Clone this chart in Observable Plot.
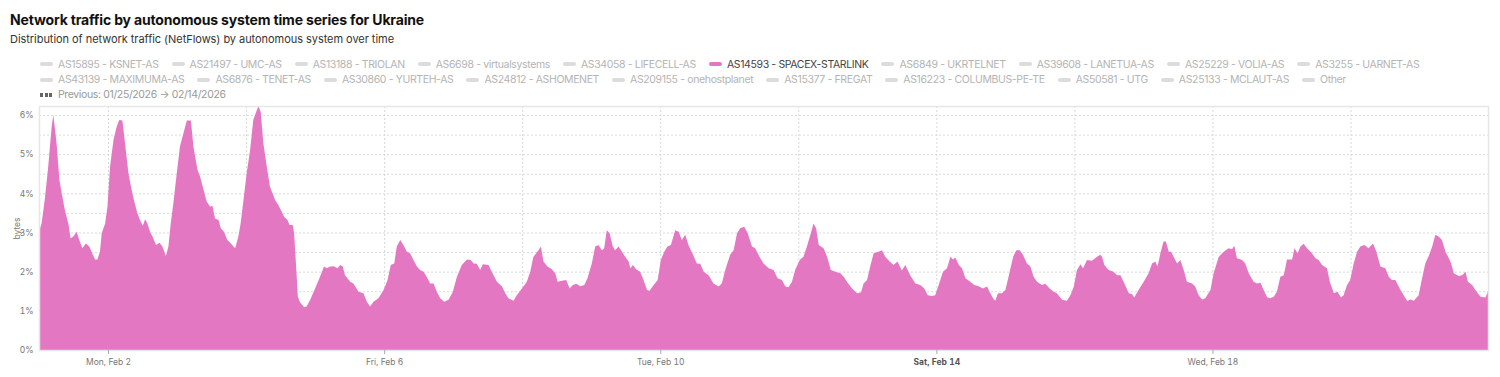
<!DOCTYPE html>
<html><head><meta charset="utf-8">
<script src="https://cdn.jsdelivr.net/npm/d3@7"></script>
<script src="https://cdn.jsdelivr.net/npm/@observablehq/plot@0.6"></script>
<style>
body{margin:0;background:#fff;font-family:Inter,"Noto Sans",sans-serif;}
#wrap{position:relative;width:1500px;height:377px;overflow:hidden}
#title{position:absolute;left:10px;top:11.4px;font-weight:700;font-size:14px;color:#111;white-space:nowrap}
#subtitle{position:absolute;left:10px;top:31.6px;font-size:11px;color:#333;white-space:nowrap}
.row{position:absolute;left:40px;display:flex;white-space:nowrap;font-size:10.5px;color:#b4b4b4}
.item{display:flex;align-items:center;margin-right:13px}
.item:last-child{margin-right:0}
.sw{width:13px;height:4px;border-radius:2px;background:#dcdcdc;margin-right:5px;flex:none}
.item.on{color:#444}
.item.on .sw{background:#e377c2}
.sw.dash{background:repeating-linear-gradient(90deg,#666 0 3px,transparent 3px 4.5px);border-radius:0}
#chart{position:absolute;left:0;top:100px}
</style></head>
<body><div id="wrap">
<div id="title"></div>
<div id="subtitle"></div>
<div class="row" id="row1" style="top:57.7px"></div>
<div class="row" id="row2" style="top:73px"></div>
<div class="row" id="row3" style="top:88px"></div>
<div id="chart"></div>
</div>
<script>
const titleText = "Network traffic by autonomous system time series for Ukraine";
const subtitleText = "Distribution of network traffic (NetFlows) by autonomous system over time";
const legendRow1 = ["AS15895 - KSNET-AS","AS21497 - UMC-AS","AS13188 - TRIOLAN","AS6698 - virtualsystems","AS34058 - LIFECELL-AS","AS14593 - SPACEX-STARLINK","AS6849 - UKRTELNET","AS39608 - LANETUA-AS","AS25229 - VOLIA-AS","AS3255 - UARNET-AS"];
const legendRow2 = ["AS43139 - MAXIMUMA-AS","AS6876 - TENET-AS","AS30860 - YURTEH-AS","AS24812 - ASHOMENET","AS209155 - onehostplanet","AS15377 - FREGAT","AS16223 - COLUMBUS-PE-TE","AS50581 - UTG","AS25133 - MCLAUT-AS","Other"];
const activeSeries = "AS14593 - SPACEX-STARLINK";
const previousLabel = "Previous: 01/25/2026 \u2192 02/14/2026";
const seriesColor = "#e377c2";
const startDate = "2026-02-01T00:00:00Z";
const xTickDates = ["2026-02-02","2026-02-06","2026-02-10","2026-02-14","2026-02-18"];
const highlightTick = "2026-02-14";
const yTicks = [0,1,2,3,4,5,6];
// [hours since Feb 1 00:00 UTC, share of traffic in %]
const starlinkShare = [
[0.0,3.02],[0.9,3.23],[2.1,3.9],[3.2,4.68],[4.4,5.7],[5.0,6.0],[6.1,5.28],[7.1,4.34],[7.9,4.0],[9.0,3.57],[10.2,3.23],[11.0,2.85],[11.9,2.9],[13.1,3.02],[14.0,2.81],[15.1,2.6],[16.3,2.72],[17.5,2.64],[18.7,2.43],[19.5,2.31],[20.3,2.31],[21.2,2.51],[21.8,2.98],[23.0,3.23],
[23.8,3.66],[24.7,4.68],[25.9,5.36],[27.0,5.7],[27.9,5.87],[29.0,5.86],[29.9,5.28],[31.1,4.51],[32.2,4.09],[33.0,3.83],[34.2,3.49],[35.1,3.32],[36.1,3.17],[36.9,3.34],[37.7,3.23],[38.6,3.02],[39.5,2.89],[40.7,2.68],[41.9,2.74],[42.9,2.64],[44.1,2.4],[45.0,2.64],[45.8,3.23],[46.7,3.74],
[47.9,4.51],[49.0,5.19],[50.2,5.53],[51.4,5.86],[52.8,5.86],[53.7,5.19],[55.1,4.6],[56.0,4.43],[57.2,4.09],[58.3,3.79],[59.5,3.66],[60.3,3.68],[61.2,3.36],[62.4,3.32],[63.2,3.11],[64.3,3.02],[65.5,2.81],[66.7,2.72],[68.2,2.6],[69.3,2.89],[70.1,3.23],[71.1,3.83],
[72.2,4.51],[73.4,5.1],[74.5,5.87],[75.5,6.08],[76.3,6.23],[77.1,6.08],[78.0,5.28],[79.2,4.68],[80.3,4.17],[82.1,3.83],[83.2,3.7],[84.4,3.53],[85.2,3.4],[86.4,3.32],[87.1,3.19],[88.2,3.19],[88.7,2.98],[89.4,2.13],[90.0,1.36],[90.8,1.21],
[92.2,1.09],[93.1,1.12],[94.3,1.28],[96.0,1.57],[97.7,1.87],[99.1,2.13],[100.1,2.09],[101.2,2.13],[102.4,2.14],[103.8,2.09],[104.7,2.17],[105.6,2.13],[106.4,1.91],[108.2,1.74],[109.3,1.7],[111.1,1.49],[112.8,1.45],[114.0,1.23],[115.1,1.11],[116.3,1.23],[118.0,1.32],[119.8,1.53],
[121.2,1.79],[122.3,2.17],[123.5,2.21],[124.4,2.64],[125.6,2.81],[126.7,2.68],[127.9,2.51],[129.0,2.47],[130.2,2.3],[131.4,2.13],[132.5,2.04],[133.7,2.0],[134.8,1.87],[136.0,1.7],[137.2,1.7],[138.3,1.49],[139.5,1.32],[140.9,1.23],[142.4,1.28],[143.9,1.49],
[145.3,1.87],[147.0,2.17],[148.8,2.31],[150.1,2.3],[151.1,2.21],[152.2,2.2],[153.4,2.04],[154.3,2.19],[156.3,2.17],[157.4,2.0],[159.2,1.74],[161.0,1.62],[162.1,1.45],[163.2,1.32],[165.0,1.26],[166.1,1.4],[167.9,1.57],
[169.6,1.74],[170.8,2.0],[171.9,2.38],[173.3,2.51],[174.5,2.64],[175.4,2.26],[176.8,2.13],[178.3,2.06],[179.5,1.96],[180.3,1.74],[181.8,1.77],[183.3,1.79],[184.5,1.57],[185.6,1.66],[186.8,1.69],[188.2,1.63],[189.6,1.66],[190.7,1.83],
[192.2,2.21],[193.4,2.64],[194.5,2.68],[195.7,2.55],[196.5,2.6],[197.4,3.06],[198.4,2.98],[199.5,2.64],[200.3,2.55],[201.5,2.64],[202.7,2.51],[203.8,2.38],[205.0,2.26],[205.6,2.09],[206.5,2.17],[207.6,2.06],[209.0,2.0],[210.2,1.79],[211.4,1.53],[212.3,1.51],[213.7,1.66],[215.1,1.79],
[216.2,2.3],[217.4,2.51],[218.5,2.64],[219.7,2.68],[221.2,3.06],[222.4,3.02],[223.5,2.81],[224.7,2.94],[225.8,2.68],[227.4,2.43],[228.7,2.21],[229.9,2.2],
[231.1,2.0],[232.8,1.91],[234.5,1.7],[236.3,1.62],[237.4,1.7],[238.6,2.04],[240.3,2.43],[241.5,2.55],[242.7,2.98],[243.8,3.11],[245.2,3.15],[246.4,2.98],[247.9,2.64],[249.0,2.6],[250.5,2.38],[251.9,2.21],[253.7,2.09],[255.4,2.04],[256.8,1.83],[258.3,1.79],[259.5,1.62],[260.6,1.6],[261.8,1.74],[262.9,2.04],
[264.5,2.3],[265.8,2.38],[267.0,2.64],[268.2,2.94],[269.3,3.23],[270.2,3.11],[271.1,2.68],[272.8,2.6],[274.0,2.38],[275.3,2.04],[276.9,2.0],[278.6,1.96],[279.8,1.87],[280.9,1.74],[282.7,1.57],[284.4,1.45],[285.8,1.47],[286.7,1.7],[287.9,1.79],
[289.0,2.13],[290.2,2.47],[291.9,2.51],[293.1,2.55],[294.2,2.38],[295.8,2.26],[297.1,2.17],[298.5,2.26],[300.0,2.03],[301.2,2.17],[302.9,1.91],[304.7,1.7],[306.4,1.66],[307.8,1.57],[309.0,1.4],[310.5,1.38],[311.6,1.4],[312.8,1.66],
[314.3,2.0],[315.7,2.09],[316.9,2.38],[317.8,2.31],[318.6,2.36],[319.8,2.17],[320.9,2.09],[322.1,1.83],[323.8,1.74],[325.2,1.66],[326.7,1.63],[328.2,1.57],[329.6,1.62],[330.5,1.49],[331.7,1.32],[332.5,1.26],[333.4,1.45],[334.8,1.45],[336.0,1.53],[337.1,1.87],
[338.7,2.38],[339.8,2.55],[341.0,2.55],[342.1,2.43],[343.5,2.21],[344.7,2.13],[345.8,1.87],[347.0,1.74],[348.7,1.66],[349.9,1.69],[351.4,1.57],[352.8,1.49],[353.9,1.45],[355.7,1.28],[357.4,1.26],[358.6,1.4],[359.8,1.62],[360.9,2.04],
[362.1,2.19],[363.0,2.09],[364.4,2.3],[366.1,2.28],[367.9,2.38],[369.0,2.43],[369.6,2.38],[370.4,2.17],[371.9,2.04],[373.6,2.0],[374.8,1.91],[376.0,1.91],[377.1,1.74],[378.9,1.45],[380.0,1.43],[380.8,1.34],[382.3,1.53],[384.1,1.74],
[385.8,1.96],[387.0,2.21],[388.1,2.26],[388.9,2.13],[389.9,2.47],[391.0,2.77],[391.8,2.77],[392.8,2.51],[393.6,2.51],[394.5,2.38],[395.7,2.21],[396.8,2.3],[398.0,2.04],[399.1,1.74],[400.9,1.7],[402.0,1.62],[403.2,1.4],[404.4,1.29],[405.5,1.32],[407.3,1.53],[408.4,1.96],
[410.2,2.38],[411.9,2.51],[413.6,2.6],[414.8,2.57],[415.6,2.66],[416.5,2.34],[418.3,2.3],[419.4,2.21],[420.6,1.96],[422.3,1.74],[423.5,1.7],[424.7,1.72],[425.8,1.53],[427.0,1.35],[428.1,1.32],[429.3,1.36],[430.4,1.49],[431.6,1.87],[432.8,1.91],
[433.9,2.31],[435.7,2.31],[436.5,2.6],[437.6,2.47],[438.6,2.64],[439.7,2.71],[440.9,2.6],[442.6,2.47],[443.8,2.34],[444.9,2.3],[446.1,2.17],[447.8,2.09],[448.8,1.74],[450.2,1.45],[451.5,1.49],[452.7,1.34],[453.6,1.4],[454.8,1.66],[455.9,1.79],
[457.1,2.21],[458.3,2.51],[459.4,2.64],[460.8,2.68],[462.3,2.6],[463.8,2.72],[465.0,2.51],[466.4,2.13],[468.1,2.09],[469.3,1.87],[470.4,1.79],[471.6,1.79],[473.1,1.57],[474.5,1.4],[475.7,1.25],[476.8,1.29],[478.0,1.26],[479.7,1.4],[480.5,1.7],
[482.0,2.21],[483.2,2.4],[484.4,2.64],[485.5,2.94],[486.7,2.89],[487.8,2.81],[489.0,2.51],[490.2,2.34],[491.0,2.21],[491.9,1.96],[493.6,1.89],[494.8,1.91],[496.0,2.0],[496.8,1.74],[498.3,1.66],[499.4,1.53],[501.2,1.36],[502.9,1.34],[503.8,1.49]
];

document.getElementById("title").textContent = titleText;
document.getElementById("subtitle").textContent = subtitleText;
function fillRow(id, items, extraClass) {
  const row = document.getElementById(id);
  for (const name of items) {
    const it = document.createElement("div");
    it.className = "item" + (name === activeSeries ? " on" : "");
    const sw = document.createElement("div");
    sw.className = "sw" + (extraClass ? " " + extraClass : "");
    const tx = document.createElement("span");
    tx.textContent = name;
    it.appendChild(sw); it.appendChild(tx);
    row.appendChild(it);
  }
}
fillRow("row1", legendRow1);
fillRow("row2", legendRow2);
fillRow("row3", [previousLabel], "dash");
document.querySelector("#row3 .item").style.color = "#999";

// fit text widths to the reference layout by letter-spacing
function fitSpacing(el, targetRight, textEls) {
  const r = el.getBoundingClientRect();
  const n = textEls.reduce((s, t) => s + t.textContent.length, 0);
  const ls = (targetRight - r.right) / n;
  textEls.forEach(t => t.style.letterSpacing = ls + "px");
}
const T = document.getElementById("title"), S = document.getElementById("subtitle");
fitSpacing(T, 424, [T]);
fitSpacing(S, 394, [S]);
const r1 = document.getElementById("row1"), r2 = document.getElementById("row2");
fitSpacing(r1, 1419, [...r1.querySelectorAll("span")]);
fitSpacing(r2, 1346, [...r2.querySelectorAll("span")]);
const r3 = document.getElementById("row3");
r3.querySelectorAll("span").forEach(s => s.style.letterSpacing = r1.querySelector("span").style.letterSpacing);

const t0 = new Date(startDate).getTime();
const data = starlinkShare.map(([h, v]) => ({date: new Date(t0 + h * 3600e3), value: v}));
const ticks = xTickDates.map(d => new Date(d + "T00:00:00Z"));
const gridDays = d3.utcDay.range(new Date("2026-02-02T00:00:00Z"), new Date("2026-02-21T12:00:00Z"), 2);
const gridY = d3.range(0.5, 6.01, 0.5);
const fmt = d3.utcFormat("%a, %b %-d");

const chart = Plot.plot({
  width: 1500, height: 277,
  marginTop: 6, marginRight: 12, marginBottom: 27, marginLeft: 39,
  style: {fontFamily: "Inter, sans-serif", fontSize: "8.5px", color: "#777", background: "transparent"},
  x: {type: "utc", domain: d3.extent(data, d => d.date)},
  y: {domain: [0, d3.max(data, d => d.value)]},
  marks: [
    Plot.gridY(gridY, {stroke: "#d9d9d9", strokeOpacity: 1, strokeDasharray: "2,2"}),
    Plot.gridX(gridDays, {stroke: "#d9d9d9", strokeOpacity: 1, strokeDasharray: "2,2"}),
    Plot.areaY(data, {x: "date", y: "value", fill: seriesColor}),
    Plot.frame({stroke: "#e6e6e6", strokeWidth: 1.5}),
    Plot.axisY(yTicks, {tickSize: 0, tickPadding: 6, tickFormat: d => d + "%", label: "bytes", labelAnchor: "center", labelArrow: "none", labelOffset: 26, fill: "#777"}),
    Plot.axisX(ticks, {tickSize: 4, tickPadding: 4, tickFormat: fmt, label: null, stroke: "#aaa", fill: "#777"})
  ]
});
document.getElementById("chart").appendChild(chart);
d3.select(chart).selectAll("text").filter(function(){ return this.textContent === fmt(new Date(highlightTick + "T00:00:00Z")); })
  .attr("font-weight", "bold").attr("fill", "#555");
</script>
</body></html>
